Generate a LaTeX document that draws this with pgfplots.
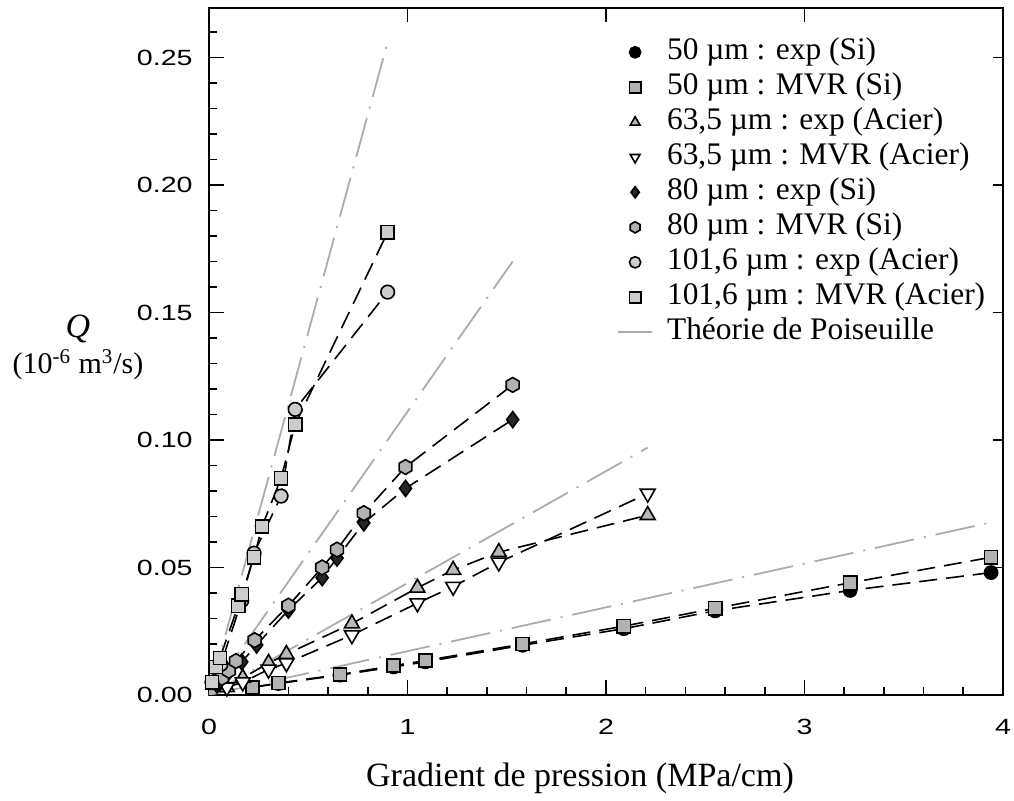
\documentclass[border=0pt]{standalone}
\usepackage{pgfplots}
\pgfplotsset{compat=1.18}
\usepackage{fontspec}
\setmainfont{Liberation Serif}
\newfontfamily\tickfont{Liberation Sans}[FakeStretch=1.3]
\pgfdeclareplotmark{hexagon*}{%
  \pgfpathmoveto{\pgfpointpolar{30}{\pgfplotmarksize}}%
  \pgfpathlineto{\pgfpointpolar{90}{\pgfplotmarksize}}%
  \pgfpathlineto{\pgfpointpolar{150}{\pgfplotmarksize}}%
  \pgfpathlineto{\pgfpointpolar{210}{\pgfplotmarksize}}%
  \pgfpathlineto{\pgfpointpolar{270}{\pgfplotmarksize}}%
  \pgfpathlineto{\pgfpointpolar{330}{\pgfplotmarksize}}%
  \pgfpathclose
  \pgfusepathqfillstroke}
\pgfplotsset{
  ser/.style={black, line width=0.8pt, dash pattern=on 9pt off 4.5pt, mark size=3.3pt,
    legend image post style={only marks, mark size=2.8pt}},
  poi/.style={gray!65, no marks, line width=0.9pt, dash pattern=on 20pt off 5pt on 1pt off 5pt},
}
\begin{document}
\begin{tikzpicture}
\useasboundingbox (-104.5pt,-53pt) rectangle (402.5pt,347.5pt);
\begin{axis}[
  scale only axis, width=397pt, height=343.5pt,
  xmin=0, xmax=4, ymin=0, ymax=0.2694,
  axis line style={line width=0.9pt},
  xtick={0,1,2,3,4}, xticklabels={0,1,2,3,4},
  ytick={0,0.05,0.1,0.15,0.2,0.25}, yticklabels={0.00,0.05,0.10,0.15,0.20,0.25},
  minor xtick={0,0.2,...,4}, minor ytick={0,0.01,...,0.265},
  xtick pos=left, ytick pos=left,
  tick align=inside,
  major tick length=7.5pt, minor tick length=4pt,
  tick style={black, line width=0.8pt},
  ticklabel style={font=\tickfont\fontsize{11}{13}\selectfont},
  xticklabel style={inner sep=0pt, yshift=-12pt},
  yticklabel style={inner sep=0pt, xshift=-8pt},
  extra x ticks={1,2,3}, extra x tick labels={},
  extra x tick style={xtick pos=right, major tick length=7pt},
  extra y ticks={0.05,0.1,0.15,0.2,0.25}, extra y tick labels={},
  extra y tick style={ytick pos=right, major tick length=5pt},
  legend cell align=left,
  legend style={at={(0.506,0.963)}, anchor=north west, draw=none, fill=none,
    font=\fontsize{15.7}{17}\selectfont, row sep=3pt, column sep=7pt,
    nodes={inner sep=0pt, text height=11pt, text depth=3.5pt}},
]
% 50 um exp (Si)
\addplot[ser, mark=*, mark options={solid, fill=black}] coordinates {
(0.22,0.003)(0.35,0.0045)(0.66,0.0078)(0.93,0.011)(1.09,0.013)(1.58,0.0195)(2.09,0.026)(2.55,0.033)(3.23,0.041)(3.94,0.048)};
\addlegendentry{50 µm : exp (Si)}
% 50 um MVR (Si)
\addplot[ser, mark=square*, mark options={solid, fill=gray!60}] coordinates {
(0.22,0.003)(0.35,0.0047)(0.66,0.008)(0.93,0.0115)(1.09,0.0135)(1.58,0.020)(2.09,0.027)(2.55,0.034)(3.23,0.044)(3.94,0.054)};
\addlegendentry{50 µm : MVR (Si)}
% 63.5 um exp (Acier)
\addplot[ser, mark=triangle*, mark size=4.3pt, mark options={solid, fill=gray!55}] coordinates {
(0.09,0.003)(0.17,0.0067)(0.30,0.0125)(0.39,0.016)(0.72,0.028)(1.05,0.042)(1.23,0.049)(1.46,0.056)(2.21,0.0705)};
\addlegendentry{63,5 µm : exp (Acier)}
% 63.5 um MVR (Acier)
\addplot[ser, mark=triangle*, mark size=4.3pt, mark options={solid, fill=white, rotate=180}] coordinates {
(0.09,0.003)(0.17,0.005)(0.30,0.010)(0.39,0.0125)(0.72,0.0235)(1.05,0.036)(1.23,0.0425)(1.46,0.052)(2.21,0.079)};
\addlegendentry{63,5 µm : MVR (Acier)}
% 80 um exp (Si)
\addplot[ser, mark=diamond*, mark size=4pt, mark options={solid, fill=black!85}] coordinates {
(0.04,0.004)(0.10,0.009)(0.165,0.013)(0.24,0.0196)(0.40,0.0333)(0.57,0.046)(0.645,0.0537)(0.78,0.0675)(0.99,0.081)(1.53,0.108)};
\addlegendentry{80 µm : exp (Si)}
% 80 um MVR (Si)
\addplot[ser, mark=hexagon*, mark size=3.7pt, mark options={solid, fill=gray!60}] coordinates {
(0.02,0.005)(0.065,0.0067)(0.10,0.0095)(0.136,0.0133)(0.23,0.0215)(0.40,0.035)(0.57,0.050)(0.645,0.057)(0.78,0.0713)(0.99,0.0894)(1.53,0.1216)};
\addlegendentry{80 µm : MVR (Si)}
% 101.6 um exp (Acier)
\addplot[ser, mark=*, mark size=3.4pt, mark options={solid, fill=gray!40}] coordinates {
(0.015,0.005)(0.06,0.012)(0.165,0.037)(0.227,0.0556)(0.363,0.078)(0.434,0.112)(0.90,0.158)};
\addlegendentry{101,6 µm : exp (Acier)}
% 101.6 um MVR (Acier)
\addplot[ser, mark=square*, mark options={solid, fill=gray!40}] coordinates {
(0.015,0.005)(0.035,0.011)(0.055,0.0145)(0.147,0.035)(0.165,0.0395)(0.227,0.054)(0.267,0.066)(0.363,0.085)(0.434,0.106)(0.90,0.1815)};
\addlegendentry{101,6 µm : MVR (Acier)}
% Poiseuille theory
\addplot[poi] coordinates {(0,0)(3.93,0.0675)};
\addlegendentry{Théorie de Poiseuille}
\addplot[poi, forget plot] coordinates {(0,0)(2.21,0.097)};
\addplot[poi, forget plot] coordinates {(0,0)(1.53,0.170)};
\addplot[poi, forget plot] coordinates {(0,0)(0.90,0.256)};
\end{axis}
\node[font=\fontsize{17}{20}\selectfont] at (185.5pt,-41.5pt) {Gradient de pression (MPa/cm)};
\node[inner sep=0pt, font=\fontsize{17}{20}\selectfont\itshape] at (-65.5pt,183pt) {Q};
\node[inner sep=0pt, font=\fontsize{15}{18}\selectfont] at (-65.5pt,165pt) {(10\textsuperscript{-6} m\textsuperscript{3}/s)};
\end{tikzpicture}
\end{document}
